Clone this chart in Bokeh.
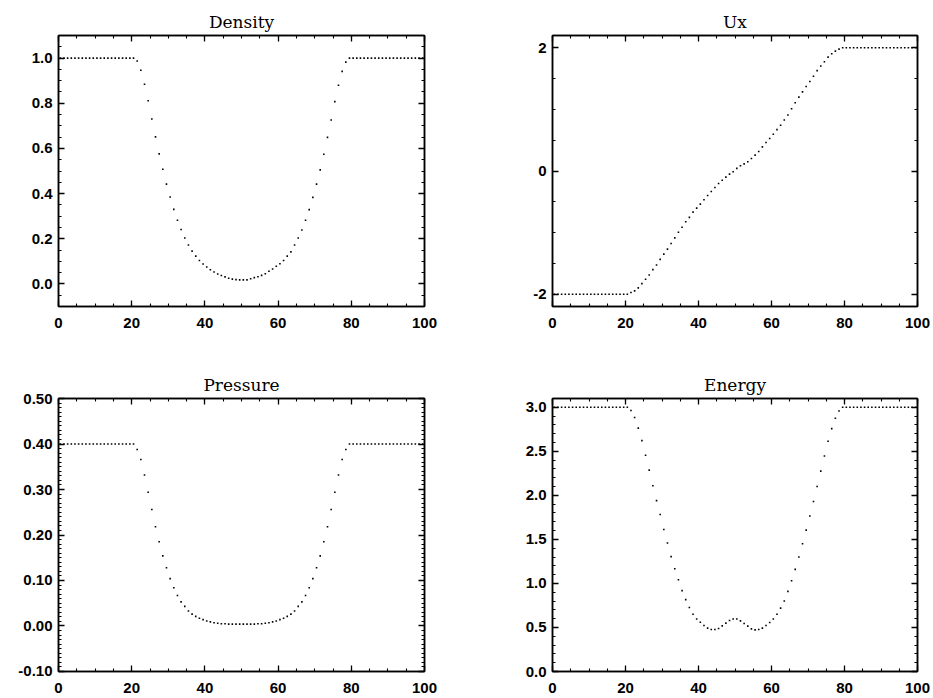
import numpy as np
from bokeh.plotting import figure
from bokeh.layouts import gridplot
from bokeh.models import (LinearAxis, SingleIntervalTicker, PrintfTickFormatter, Range1d,
                          CustomLabelingPolicy)
from bokeh.embed import file_html
from bokeh.resources import INLINE

# cell centres of the 100-cell grid
X = np.arange(100) + 0.5

DENSITY = ([1.0] * 21 +
           [0.987, 0.946, 0.884, 0.811, 0.730, 0.651, 0.576, 0.508, 0.442, 0.385,
            0.330, 0.282, 0.241, 0.203, 0.172, 0.145, 0.123, 0.104, 0.088, 0.075,
            0.063, 0.053, 0.044, 0.037, 0.031, 0.025, 0.021, 0.019, 0.018,
            0.018, 0.018, 0.023, 0.028, 0.032, 0.038, 0.045, 0.056, 0.066, 0.078,
            0.089, 0.104, 0.123, 0.142, 0.172, 0.203, 0.239, 0.282, 0.329, 0.383,
            0.442, 0.505, 0.574, 0.649, 0.726, 0.807, 0.880, 0.941, 0.982] +
           [1.0] * 21)

UX = ([-2.0] * 21 +
      [-1.973, -1.946, -1.898, -1.828, -1.758, -1.688, -1.602, -1.527, -1.435, -1.349,
       -1.269, -1.177, -1.086, -0.995, -0.914, -0.823, -0.753, -0.667, -0.602, -0.538,
       -0.468, -0.398, -0.333, -0.269, -0.204, -0.151, -0.100, -0.050, -0.011, 0.043,
       0.086, 0.115, 0.151, 0.204, 0.258, 0.317, 0.392, 0.462, 0.527, 0.597,
       0.672, 0.742, 0.828, 0.909, 1.011, 1.108, 1.199, 1.285, 1.371, 1.452,
       1.538, 1.629, 1.704, 1.774, 1.849, 1.903, 1.946, 1.978] +
      [2.0] * 21)

PRESSURE = ([0.40] * 21 +
            [0.388, 0.366, 0.332, 0.294, 0.256, 0.218, 0.185, 0.154, 0.128, 0.104,
             0.084, 0.067, 0.053, 0.043, 0.033, 0.026, 0.021, 0.017, 0.014, 0.011,
             0.009, 0.007, 0.006, 0.005, 0.005, 0.004, 0.004, 0.004, 0.004,
             0.004, 0.004, 0.004, 0.004, 0.005, 0.005, 0.006, 0.007, 0.009, 0.011,
             0.014, 0.017, 0.021, 0.026, 0.033, 0.043, 0.053, 0.067, 0.084, 0.104,
             0.128, 0.154, 0.185, 0.218, 0.256, 0.294, 0.332, 0.366, 0.388] +
            [0.40] * 21)

ENERGY = ([3.0] * 21 +
          [2.964, 2.885, 2.764, 2.622, 2.456, 2.287, 2.110, 1.940, 1.782, 1.613,
           1.459, 1.305, 1.166, 1.042, 0.918, 0.816, 0.726, 0.650, 0.597, 0.560,
           0.523, 0.492, 0.477, 0.477, 0.489, 0.518, 0.549, 0.579, 0.597,
           0.597, 0.575, 0.545, 0.515, 0.484, 0.473, 0.477, 0.492, 0.523, 0.556,
           0.597, 0.650, 0.720, 0.800, 0.910, 1.030, 1.160, 1.300, 1.450, 1.605,
           1.765, 1.930, 2.100, 2.275, 2.447, 2.615, 2.758, 2.875, 2.958] +
          [3.0] * 21)

TITLES = ["Density", "Ux", "Pressure", "Energy"]

LABEL_FONT = "Liberation Sans"

NO_LABELS = """
const all = [];
for (const i of indices) all.push(i);
for (const i of all) indices.unset(i);
return indices;
"""


def make_axis(ticker_int, minor, fmt, labelled, standoff):
    ax = LinearAxis(
        ticker=SingleIntervalTicker(interval=ticker_int, num_minor_ticks=minor),
        formatter=PrintfTickFormatter(format=fmt),
        major_tick_in=6, major_tick_out=0,
        minor_tick_in=3, minor_tick_out=0,
        axis_line_color="black", axis_line_width=1.5,
        major_tick_line_color="black", major_tick_line_width=1.3,
        minor_tick_line_color="black", minor_tick_line_width=1.1,
        major_label_text_font=LABEL_FONT,
        major_label_text_font_style="bold",
        major_label_text_color="black",
        major_label_text_font_size="15px" if labelled else "1px",
        major_label_standoff=standoff if labelled else 0,
    )
    if not labelled:
        ax.major_label_policy = CustomLabelingPolicy(code=NO_LABELS)
    return ax


def panel(title, y, yr, yint, yminor, yfmt, w, h, bl, br, bt, bb):
    p = figure(width=w, height=h, x_range=Range1d(0, 100), y_range=Range1d(*yr),
               output_backend="svg", toolbar_location=None,
               x_axis_type=None, y_axis_type=None,
               min_border_left=bl, min_border_right=br,
               min_border_top=bt, min_border_bottom=bb)
    p.grid.visible = False
    p.outline_line_color = "black"
    p.outline_line_width = 1.5
    p.background_fill_color = "white"
    p.border_fill_color = "white"
    p.add_layout(make_axis(20, 4, "%d", True, 11), "below")
    p.add_layout(make_axis(20, 4, "%d", False, 0), "above")
    p.add_layout(make_axis(yint, yminor, yfmt, True, 6), "left")
    p.add_layout(make_axis(yint, yminor, yfmt, False, 0), "right")
    p.title.text = title
    p.title.align = "center"
    p.title.text_font = "DejaVu Serif"
    p.title.text_font_size = "17px"
    p.title.text_font_style = "normal"
    p.title.text_color = "black"
    p.title.standoff = 0
    p.title.text_line_height = 0.9
    p.scatter(X, y, marker="square", size=1.6, fill_color="black", line_color=None)
    return p


p1 = panel(TITLES[0], DENSITY, (-0.1, 1.1), 0.2, 4, "%.1f", 466, 349, 58, 40, 32, 43)
p2 = panel(TITLES[1], UX, (-2.2, 2.2), 2, 4, "%d", 467, 349, 86, 12, 35, 41)
p3 = panel(TITLES[2], PRESSURE, (-0.1001, 0.5001), 0.1, 10, "%.2f", 466, 349, 58, 42, 47, 27)
p4 = panel(TITLES[3], ENERGY, (0.0, 3.1), 0.5, 5, "%.1f", 467, 349, 83, 16, 49, 27)

grid = gridplot([[p1, p2], [p3, p4]], toolbar_location=None)

open("out.html", "w").write(file_html(grid, INLINE))
